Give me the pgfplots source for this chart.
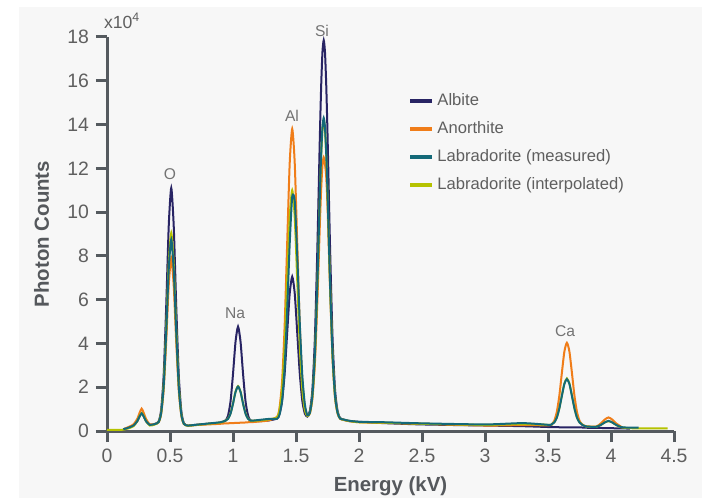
\documentclass[border=0pt]{standalone}
\usepackage{fontspec}
\setmainfont{Liberation Sans}
\usepackage{pgfplots}
\usepackage{pgfplotstable}
\pgfplotsset{compat=1.18}

\definecolor{albite}{RGB}{40,36,100}
\definecolor{anorthite}{RGB}{240,125,25}
\definecolor{labmeas}{RGB}{20,105,120}
\definecolor{labinterp}{RGB}{181,194,0}
\definecolor{axisgray}{RGB}{85,90,95}
\definecolor{ticktext}{RGB}{95,95,95}
\definecolor{lbltext}{RGB}{85,88,92}
\definecolor{peaktext}{RGB}{115,115,115}
\definecolor{bggray}{RGB}{247,247,247}

% x = energy (kV), counts in units of 10^4
% a = albite, n = anorthite, m = labradorite measured, i = labradorite interpolated
\pgfplotstableread{
x      a      n      m      i
0.00   nan    nan    nan    0.05
0.10   nan    nan    nan    0.05
0.13   0.08   0.08   0.08   0.06
0.17   0.15   0.18   0.15   0.12
0.21   0.25   0.30   0.25   0.22
0.24   0.45   0.55   0.45   0.45
0.26   0.70   0.85   0.68   0.70
0.275  0.82   1.02   0.80   0.82
0.29   0.70   0.85   0.68   0.70
0.31   0.45   0.55   0.45   0.45
0.34   0.28   0.30   0.28   0.25
0.38   0.32   0.32   0.32   0.30
0.41   0.44   0.40   0.41   0.41
0.43   0.98   0.78   0.83   0.85
0.45   2.57   1.90   2.07   2.14
0.47   5.70   4.10   4.53   4.68
0.49   9.37   6.68   7.40   7.65
0.51   11.10  7.90   8.75   9.05
0.53   9.30   6.60   7.30   7.60
0.55   5.60   4.00   4.45   4.60
0.57   2.50   1.82   2.00   2.06
0.59   0.90   0.70   0.75   0.77
0.61   0.36   0.32   0.33   0.33
0.64   0.25   0.25   0.25   0.24
0.70   0.28   0.27   0.28   0.27
0.80   0.33   0.30   0.34   0.33
0.90   0.38   0.33   0.40   0.39
0.94   0.48   0.35   0.47   0.47
0.96   0.69   0.35   0.55   0.56
0.98   1.33   0.36   0.78   0.80
1.00   2.60   0.36   1.24   1.26
1.02   4.07   0.37   1.78   1.80
1.04   4.77   0.37   2.03   2.05
1.06   4.07   0.38   1.78   1.80
1.08   2.60   0.38   1.24   1.26
1.10   1.33   0.39   0.78   0.80
1.12   0.70   0.40   0.55   0.56
1.14   0.48   0.40   0.47   0.47
1.20   0.45   0.43   0.50   0.48
1.28   0.48   0.48   0.55   0.53
1.35   0.57   0.65   0.56   0.62
1.37   0.79   1.09   0.77   0.96
1.39   1.38   2.30   1.42   1.92
1.41   2.63   4.82   2.93   3.91
1.43   4.48   8.57   5.52   6.87
1.45   6.28   12.23  8.56   9.76
1.47   7.05   13.80  10.70  11.00
1.49   6.28   12.23  10.50  9.76
1.51   4.48   8.57   7.98   6.87
1.53   2.63   4.82   4.93   3.91
1.55   1.38   2.30   2.54   1.92
1.57   0.80   1.09   1.23   0.96
1.59   0.66   0.71   0.72   0.69
1.61   0.91   0.80   0.83   0.83
1.63   1.88   1.46   1.60   1.59
1.65   4.25   3.09   3.48   3.46
1.67   8.45   6.00   6.82   6.77
1.69   13.60  9.56   10.92  10.84
1.70   15.80  11.08  12.67  12.58
1.71   17.31  12.13  13.87  13.78
1.72   17.85  12.50  14.30  14.20
1.73   17.31  12.20  13.87  13.78
1.74   15.80  11.60  12.67  12.58
1.75   13.60  10.30  10.92  10.84
1.77   8.45   6.60   6.82   6.77
1.79   4.25   3.30   3.48   3.46
1.81   1.88   1.50   1.60   1.59
1.83   0.91   0.80   0.83   0.83
1.85   0.59   0.56   0.57   0.57
1.88   0.52   0.50   0.52   0.51
1.92   0.46   0.45   0.47   0.46
2.00   0.42   0.40   0.42   0.40
2.20   0.36   0.37   0.40   0.38
2.50   0.30   0.33   0.35   0.33
3.00   0.25   0.25   0.30   0.28
3.30   0.22   0.27   0.36   0.32
3.51   0.18   0.26   0.28   0.28
3.53   0.18   0.31   0.31   0.31
3.55   0.18   0.47   0.39   0.40
3.57   0.18   0.87   0.61   0.62
3.59   0.17   1.61   1.03   1.04
3.61   0.17   2.65   1.60   1.62
3.63   0.17   3.63   2.15   2.17
3.65   0.17   4.03   2.37   2.40
3.67   0.17   3.63   2.15   2.17
3.69   0.17   2.65   1.60   1.62
3.71   0.16   1.61   1.03   1.04
3.73   0.16   0.87   0.61   0.62
3.75   0.16   0.47   0.39   0.40
3.77   0.16   0.31   0.29   0.30
3.80   0.15   0.22   0.21   0.21
3.88   0.14   0.20   0.19   0.19
3.92   0.14   0.35   0.28   0.28
3.95   0.13   0.52   0.39   0.39
3.98   0.13   0.62   0.46   0.45
4.01   0.13   0.52   0.39   0.39
4.04   0.12   0.35   0.28   0.28
4.08   0.12   0.20   0.18   0.17
4.15   0.11   nan    0.15   0.13
4.22   nan    nan    0.15   0.12
4.45   nan    nan    nan    0.12
}\spectra

\begin{document}
\begin{tikzpicture}
\useasboundingbox (-53.5bp,-33.5bp) rectangle (297.5bp,215.5bp);
\fill[bggray] (-44bp,-33.5bp) rectangle (297.5bp,212bp);
\begin{axis}[
  at={(0,0)}, anchor=south west,
  width=283.5bp, height=197bp, scale only axis,
  xmin=0, xmax=4.5, ymin=0, ymax=18,
  axis x line=bottom, axis y line=left,
  axis line style={-, line width=1.5bp, draw=axisgray},
  xtick={0,0.5,1,1.5,2,2.5,3,3.5,4,4.5},
  ytick={0,2,4,6,8,10,12,14,16,18},
  tick align=outside, major tick length=5.5bp,
  tick style={line width=1.5bp, draw=axisgray},
  /pgf/number format/assume math mode=true,
  ticklabel style={font=\fontsize{9.7bp}{11bp}\selectfont, text=ticktext},
  xlabel={Energy (kV)},
  ylabel={Photon Counts},
  label style={font=\bfseries\fontsize{10.2bp}{12bp}\selectfont, text=lbltext},
  xlabel style={at={(axis description cs:0.5,-0.1548)}, anchor=base},
  ylabel style={at={(axis description cs:-0.1023,0.5)}, anchor=base},
  legend image code/.code={\draw[#1, line width=2bp] (0bp,0bp) -- (11bp,0bp);},
  legend style={at={(0.531,0.865)}, anchor=north west, draw=none, fill=none,
    font=\fontsize{8.3bp}{9bp}\selectfont, text=ticktext, row sep=3.4bp,
    inner sep=0pt, nodes={inner sep=1.5bp}},
  legend cell align=left,
  clip=false,
]
\addlegendimage{albite}
\addlegendentry{Albite}
\addlegendimage{anorthite}
\addlegendentry{Anorthite}
\addlegendimage{labmeas}
\addlegendentry{Labradorite (measured)}
\addlegendimage{labinterp}
\addlegendentry{Labradorite (interpolated)}

\addplot[albite, line width=1bp, smooth, tension=0.4, forget plot] table[x=x, y=a] {\spectra};
\addplot[anorthite, line width=1bp, smooth, tension=0.4, forget plot] table[x=x, y=n] {\spectra};
\addplot[labinterp, line width=1bp, smooth, tension=0.4, forget plot] table[x=x, y=i] {\spectra};
\addplot[labmeas, line width=1bp, smooth, tension=0.4, forget plot] table[x=x, y=m] {\spectra};

\begin{scope}[every node/.style={font=\fontsize{7.8bp}{9bp}\selectfont, text=peaktext}]
\node at (axis cs:0.5,11.75) {O};
\node at (axis cs:1.016,5.39) {Na};
\node at (axis cs:1.468,14.38) {Al};
\node at (axis cs:1.706,18.3) {Si};
\node at (axis cs:3.635,4.57) {Ca};
\end{scope}
\end{axis}
\node[anchor=base west, font=\fontsize{8.8bp}{10bp}\selectfont, text=ticktext] at (-5bp,201bp) {x10\textsuperscript{4}};
\end{tikzpicture}
\end{document}
